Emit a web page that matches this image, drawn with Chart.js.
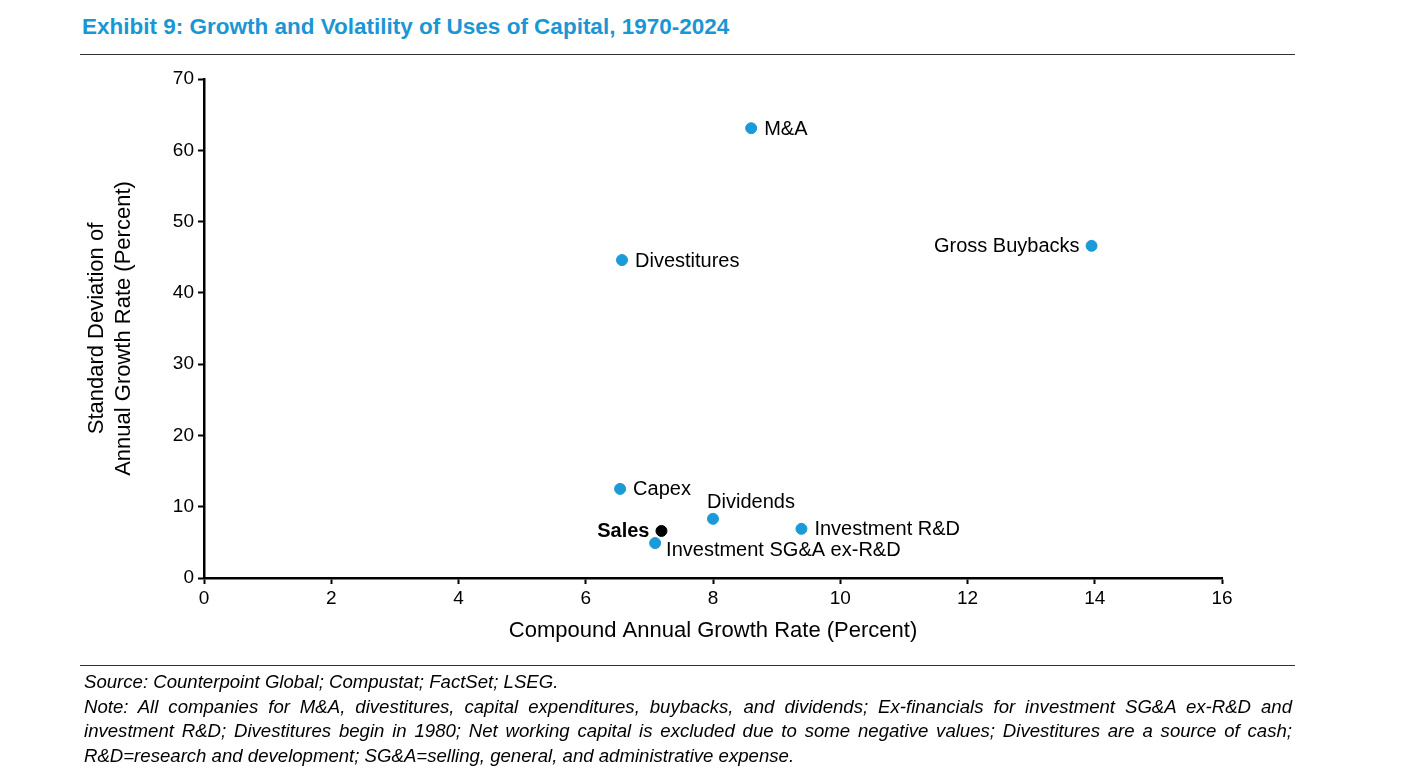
<!DOCTYPE html>
<html><head><meta charset="utf-8">
<script src="https://cdn.jsdelivr.net/npm/chart.js@4"></script>
<style>
body{margin:0;width:1401px;height:782px;position:relative;font-family:"Liberation Sans",Arial,sans-serif;background:#fff;overflow:hidden}
#title{position:absolute;left:82px;top:14px;font-size:22.5px;font-weight:bold;color:#1a96d4}
#l1{position:absolute;left:80px;top:54px;width:1215px;height:1px;background:#333}
#l2{position:absolute;left:80px;top:665px;width:1215px;height:1px;background:#333}
#foot{position:absolute;left:84px;top:670px;width:1208px;font-size:18.6px;font-style:italic;line-height:24.7px;color:#000;text-align:justify}
canvas{position:absolute;left:0;top:0}
</style></head><body>
<div id="title">Exhibit 9: Growth and Volatility of Uses of Capital, 1970-2024</div>
<div id="l1"></div>
<canvas id="c" width="1401" height="782"></canvas>
<div id="l2"></div>
<div id="foot">Source: Counterpoint Global; Compustat; FactSet; LSEG.<br>Note: All companies for M&amp;A, divestitures, capital expenditures, buybacks, and dividends; Ex-financials for investment SG&amp;A ex-R&amp;D and investment R&amp;D; Divestitures begin in 1980; Net working capital is excluded due to some negative values; Divestitures are a source of cash; R&amp;D=research and development; SG&amp;A=selling, general, and administrative expense.</div>
<script>
const labels=["M&A","Gross Buybacks","Divestitures","Capex","Dividends","Investment R&D","Sales","Investment SG&A ex-R&D"];
const cagr=[8.6,13.95,6.57,6.54,8.0,9.39,7.19,7.09];
const stdev=[63.1,46.6,44.6,12.5,8.3,6.9,6.6,4.9];
const xTicks=[0,2,4,6,8,10,12,14,16];
const yTicks=[0,10,20,30,40,50,60,70];
const labelPos=["right","left","right","right","above","right","left","rightbelow"];
const colors=labels.map(l=>l==="Sales"?"#000":"#1a9ad6");
const labelPlugin={id:"lbl",afterDatasetsDraw(ch){
 const ctx=ch.ctx,meta=ch.getDatasetMeta(0);
 meta.data.forEach((p,i)=>{
  ctx.save();ctx.fillStyle="#000";
  ctx.font=(labels[i]==="Sales"?"bold ":"")+"20px 'Liberation Sans', Arial";
  ctx.textBaseline="middle";
  let x=p.x,y=p.y;
  const pos=labelPos[i];
  if(pos==="right"){ctx.textAlign="left";x+=13;y+=1;}
  else if(pos==="left"){ctx.textAlign="right";x-=12;y+=1;}
  else if(pos==="above"){ctx.textAlign="center";x+=38;y-=16;}
  else {ctx.textAlign="left";x+=11;y+=7;}
  ctx.fillText(labels[i],x,y);ctx.restore();
 });
}};
const tf={size:19,family:"'Liberation Sans', Arial"};
new Chart(document.getElementById("c"),{type:"scatter",
 data:{datasets:[{data:cagr.map((v,i)=>({x:v,y:stdev[i]})),pointBackgroundColor:colors,pointBorderColor:colors,pointRadius:5.5,pointHoverRadius:5.5}]},
 options:{responsive:false,animation:false,events:[],
  layout:{padding:{left:80,right:179,top:79,bottom:134}},
  plugins:{legend:{display:false},tooltip:{enabled:false}},
  scales:{
   x:{type:"linear",min:0,max:16,afterFit(s){s.height=70;},
    afterBuildTicks(s){s.ticks=xTicks.map(v=>({value:v}));},
    grid:{display:true,drawOnChartArea:false,drawTicks:true,tickLength:6,tickColor:"#000",tickWidth:2},
    border:{color:"#000",width:2.5},
    ticks:{color:"#000",font:tf,padding:3,maxRotation:0},
    title:{display:true,text:"Compound Annual Growth Rate (Percent)",color:"#000",font:{size:22,family:"'Liberation Sans', Arial"},padding:{top:2}}},
   y:{type:"linear",min:0,max:70,afterFit(s){s.width=124;},
    afterBuildTicks(s){s.ticks=yTicks.map(v=>({value:v}));},
    grid:{display:true,drawOnChartArea:false,drawTicks:true,tickLength:6,tickColor:"#000",tickWidth:2},
    border:{color:"#000",width:2.5},
    ticks:{color:"#000",font:tf,padding:4},
    title:{display:true,text:["Standard Deviation of","Annual Growth Rate (Percent)"],color:"#000",font:{size:22,family:"'Liberation Sans', Arial"},padding:{bottom:4}}}
  }},
 plugins:[labelPlugin]});
</script></body></html>
